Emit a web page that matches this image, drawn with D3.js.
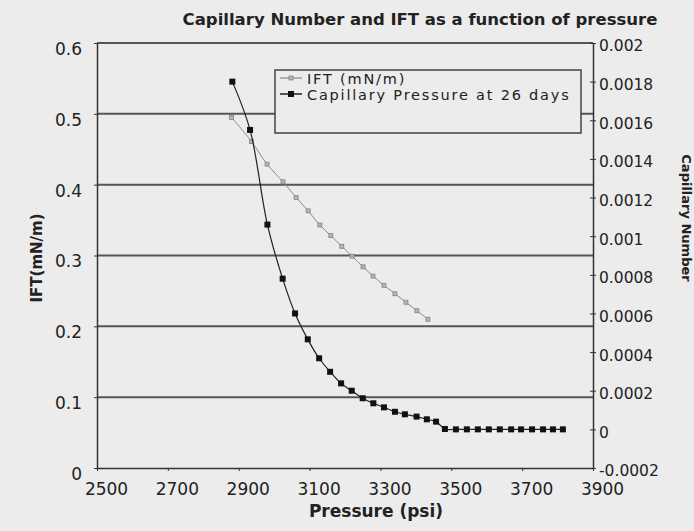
<!DOCTYPE html>
<html>
<head>
    <meta charset="utf-8" />
    <title>Capillary Number and IFT</title>
    <style>
        body{
            margin:0;
            background:#ececec;
        }
        svg{
            display:block;
        }
        text{
            font-family:"DejaVu Sans", sans-serif;
            fill:#222;
        }
    </style>
</head>
<body>
    <div id="chart"></div>
    <script src="https://cdn.jsdelivr.net/npm/d3@7"></script>
    <script>
        // ---------------- data ----------------
        var iftPressure = [2880, 2936, 2980, 3025, 3062, 3096, 3129, 3160, 3191, 3220, 3251, 3279, 3310, 3341, 3372, 3403, 3434];
        var iftValues = [0.495, 0.461, 0.429, 0.404, 0.382, 0.363, 0.343, 0.328, 0.313, 0.299, 0.284, 0.271, 0.258, 0.246, 0.234, 0.222, 0.210];

        var capPressure = [2882, 2932, 2981, 3024, 3059, 3095, 3127, 3158, 3189, 3219, 3250, 3280, 3310, 3341, 3369, 3402, 3431, 3457,
            3482, 3513, 3544, 3575, 3606, 3637, 3669, 3697, 3728, 3759, 3787, 3815];
        var capValues = [0.0018, 0.00155, 0.00106, 0.00078, 0.0006, 0.000466, 0.000368, 0.000298, 0.000238, 0.0002, 0.000161, 0.000135,
            0.000114, 0.000091, 0.000078, 0.000066, 0.000052, 0.00004,
            0.000002, 0, 0, 0, 0, 0, 0, 0, 0, 0, 0, 0];

        var xTicks = [2500, 2700, 2900, 3100, 3300, 3500, 3700, 3900];
        var leftTicks = [0, 0.1, 0.2, 0.3, 0.4, 0.5, 0.6];
        var rightTicks = [-0.0002, 0, 0.0002, 0.0004, 0.0006, 0.0008, 0.001, 0.0012, 0.0014, 0.0016, 0.0018, 0.002];
        var seriesNames = ["IFT (mN/m)", "Capillary Pressure at 26 days"];

        var titleText = "Capillary Number and IFT as a function of pressure";
        var xTitle = "Pressure (psi)";
        var yLeftTitle = "IFT(mN/m)";
        var yRightTitle = "Capillary Number";

        // ---------------- layout ----------------
        var options = {
            width: 694,
            height: 531,
            plot: { left: 97, right: 593, top: 43, bottom: 468 },
            legend: { x: 275, y: 70, w: 306, h: 63 }
        };
        var plot = options.plot;

        var svg = d3.select("#chart")
            .append("svg")
            .attr("width", options.width)
            .attr("height", options.height);

        svg.append("rect")
            .attr("width", options.width)
            .attr("height", options.height)
            .attr("fill", "#ececec");

        var x = d3.scaleLinear().domain([2500, 3900]).range([plot.left, plot.right]);
        var yLeft = d3.scaleLinear().domain([0, 0.6]).range([plot.bottom, plot.top]);
        var yRight = d3.scaleLinear().domain([-0.0002, 0.002]).range([plot.bottom, plot.top]);

        // gridlines
        svg.append("g")
            .selectAll("line")
            .data(leftTicks.filter(d => d > 0))
            .join("line")
            .attr("x1", plot.left)
            .attr("x2", plot.right)
            .attr("y1", d => yLeft(d))
            .attr("y2", d => yLeft(d))
            .attr("stroke", "#555")
            .attr("stroke-width", 2);

        // axes
        var xAxis = svg.append("g")
            .attr("transform", "translate(0," + plot.bottom + ")")
            .call(d3.axisBottom(x).tickValues(xTicks).tickSize(3).tickSizeOuter(0).tickPadding(12).tickFormat(d3.format("d")));
        xAxis.selectAll("text").attr("x", 9).style("font-size", "17px");

        var leftAxis = svg.append("g")
            .attr("transform", "translate(" + plot.left + ",0)")
            .call(d3.axisLeft(yLeft).tickValues(leftTicks).tickSize(3).tickSizeOuter(0).tickPadding(12).tickFormat(d => String(d)));
        leftAxis.selectAll("text").attr("y", 6).style("font-size", "17px");

        var rightAxis = svg.append("g")
            .attr("transform", "translate(" + plot.right + ",0)")
            .call(d3.axisRight(yRight).tickValues(rightTicks).tickSize(3).tickSizeOuter(0).tickPadding(3)
                .tickFormat(d => String(+d.toFixed(4))));
        rightAxis.selectAll(".tick line").attr("x1", -3);
        rightAxis.selectAll("text").attr("y", 3).style("font-size", "15.5px");

        svg.selectAll(".domain").attr("stroke", "#333").attr("stroke-width", 1.5);
        svg.selectAll(".tick line").attr("stroke", "#333");
        svg.selectAll(".tick text").attr("fill", "#222").attr("font-family", "DejaVu Sans");

        // series
        var iftData = d3.zip(iftPressure, iftValues);
        var capData = d3.zip(capPressure, capValues);

        var iftLine = d3.line()
            .x(d => x(d[0]))
            .y(d => yLeft(d[1]))
            .curve(d3.curveCatmullRom.alpha(0.5));
        var capLine = d3.line()
            .x(d => x(d[0]))
            .y(d => yRight(d[1]))
            .curve(d3.curveCatmullRom.alpha(0.5));

        svg.append("path")
            .datum(iftData)
            .attr("d", iftLine)
            .attr("fill", "none")
            .attr("stroke", "#8a8a8a")
            .attr("stroke-width", 1);
        svg.append("g")
            .selectAll("rect")
            .data(iftData)
            .join("rect")
            .attr("x", d => x(d[0]) - 2)
            .attr("y", d => yLeft(d[1]) - 2)
            .attr("width", 4)
            .attr("height", 4)
            .attr("fill", "#b5b5b5")
            .attr("stroke", "#7a7a7a")
            .attr("stroke-width", 0.7);

        svg.append("path")
            .datum(capData)
            .attr("d", capLine)
            .attr("fill", "none")
            .attr("stroke", "#222")
            .attr("stroke-width", 1.2);
        svg.append("g")
            .selectAll("rect")
            .data(capData)
            .join("rect")
            .attr("x", d => x(d[0]) - 3)
            .attr("y", d => yRight(d[1]) - 3)
            .attr("width", 6)
            .attr("height", 6)
            .attr("fill", "#111");

        // legend
        var lg = options.legend;
        var legend = svg.append("g").attr("transform", "translate(" + lg.x + "," + lg.y + ")");
        legend.append("rect")
            .attr("width", lg.w)
            .attr("height", lg.h)
            .attr("fill", "#ececec")
            .attr("stroke", "#444")
            .attr("stroke-width", 1.5);
        var items = legend.selectAll(".item")
            .data(seriesNames)
            .join("g")
            .attr("class", "item")
            .attr("transform", (d, i) => "translate(0," + (8 + i * 16) + ")");
        items.append("line")
            .attr("x1", 5).attr("x2", 27)
            .attr("stroke", (d, i) => i === 0 ? "#777" : "#222")
            .attr("stroke-width", (d, i) => i === 0 ? 1 : 1.5);
        items.append("rect")
            .attr("x", (d, i) => i === 0 ? 14 : 13)
            .attr("y", (d, i) => i === 0 ? -2 : -3)
            .attr("width", (d, i) => i === 0 ? 4 : 6)
            .attr("height", (d, i) => i === 0 ? 4 : 6)
            .attr("fill", (d, i) => i === 0 ? "#b5b5b5" : "#111")
            .attr("stroke", (d, i) => i === 0 ? "#7a7a7a" : "none")
            .attr("stroke-width", 0.7);
        items.append("text")
            .attr("x", 32)
            .attr("y", 6)
            .style("font-size", "14.5px")
            .style("letter-spacing", "1.8px")
            .text(d => d);

        // titles
        svg.append("text")
            .attr("x", 420)
            .attr("y", 25)
            .attr("text-anchor", "middle")
            .style("font-size", "16.5px")
            .style("font-weight", "bold")
            .text(titleText);

        svg.append("text")
            .attr("x", 376)
            .attr("y", 517)
            .attr("text-anchor", "middle")
            .style("font-size", "17px")
            .style("font-weight", "bold")
            .text(xTitle);

        svg.append("text")
            .attr("transform", "translate(42,258) rotate(-90)")
            .attr("text-anchor", "middle")
            .style("font-size", "15px")
            .style("font-weight", "bold")
            .text(yLeftTitle);

        svg.append("text")
            .attr("transform", "translate(682,218) rotate(90)")
            .attr("text-anchor", "middle")
            .style("font-size", "13px")
            .style("font-weight", "bold")
            .text(yRightTitle);
    </script>
</body>
</html>
